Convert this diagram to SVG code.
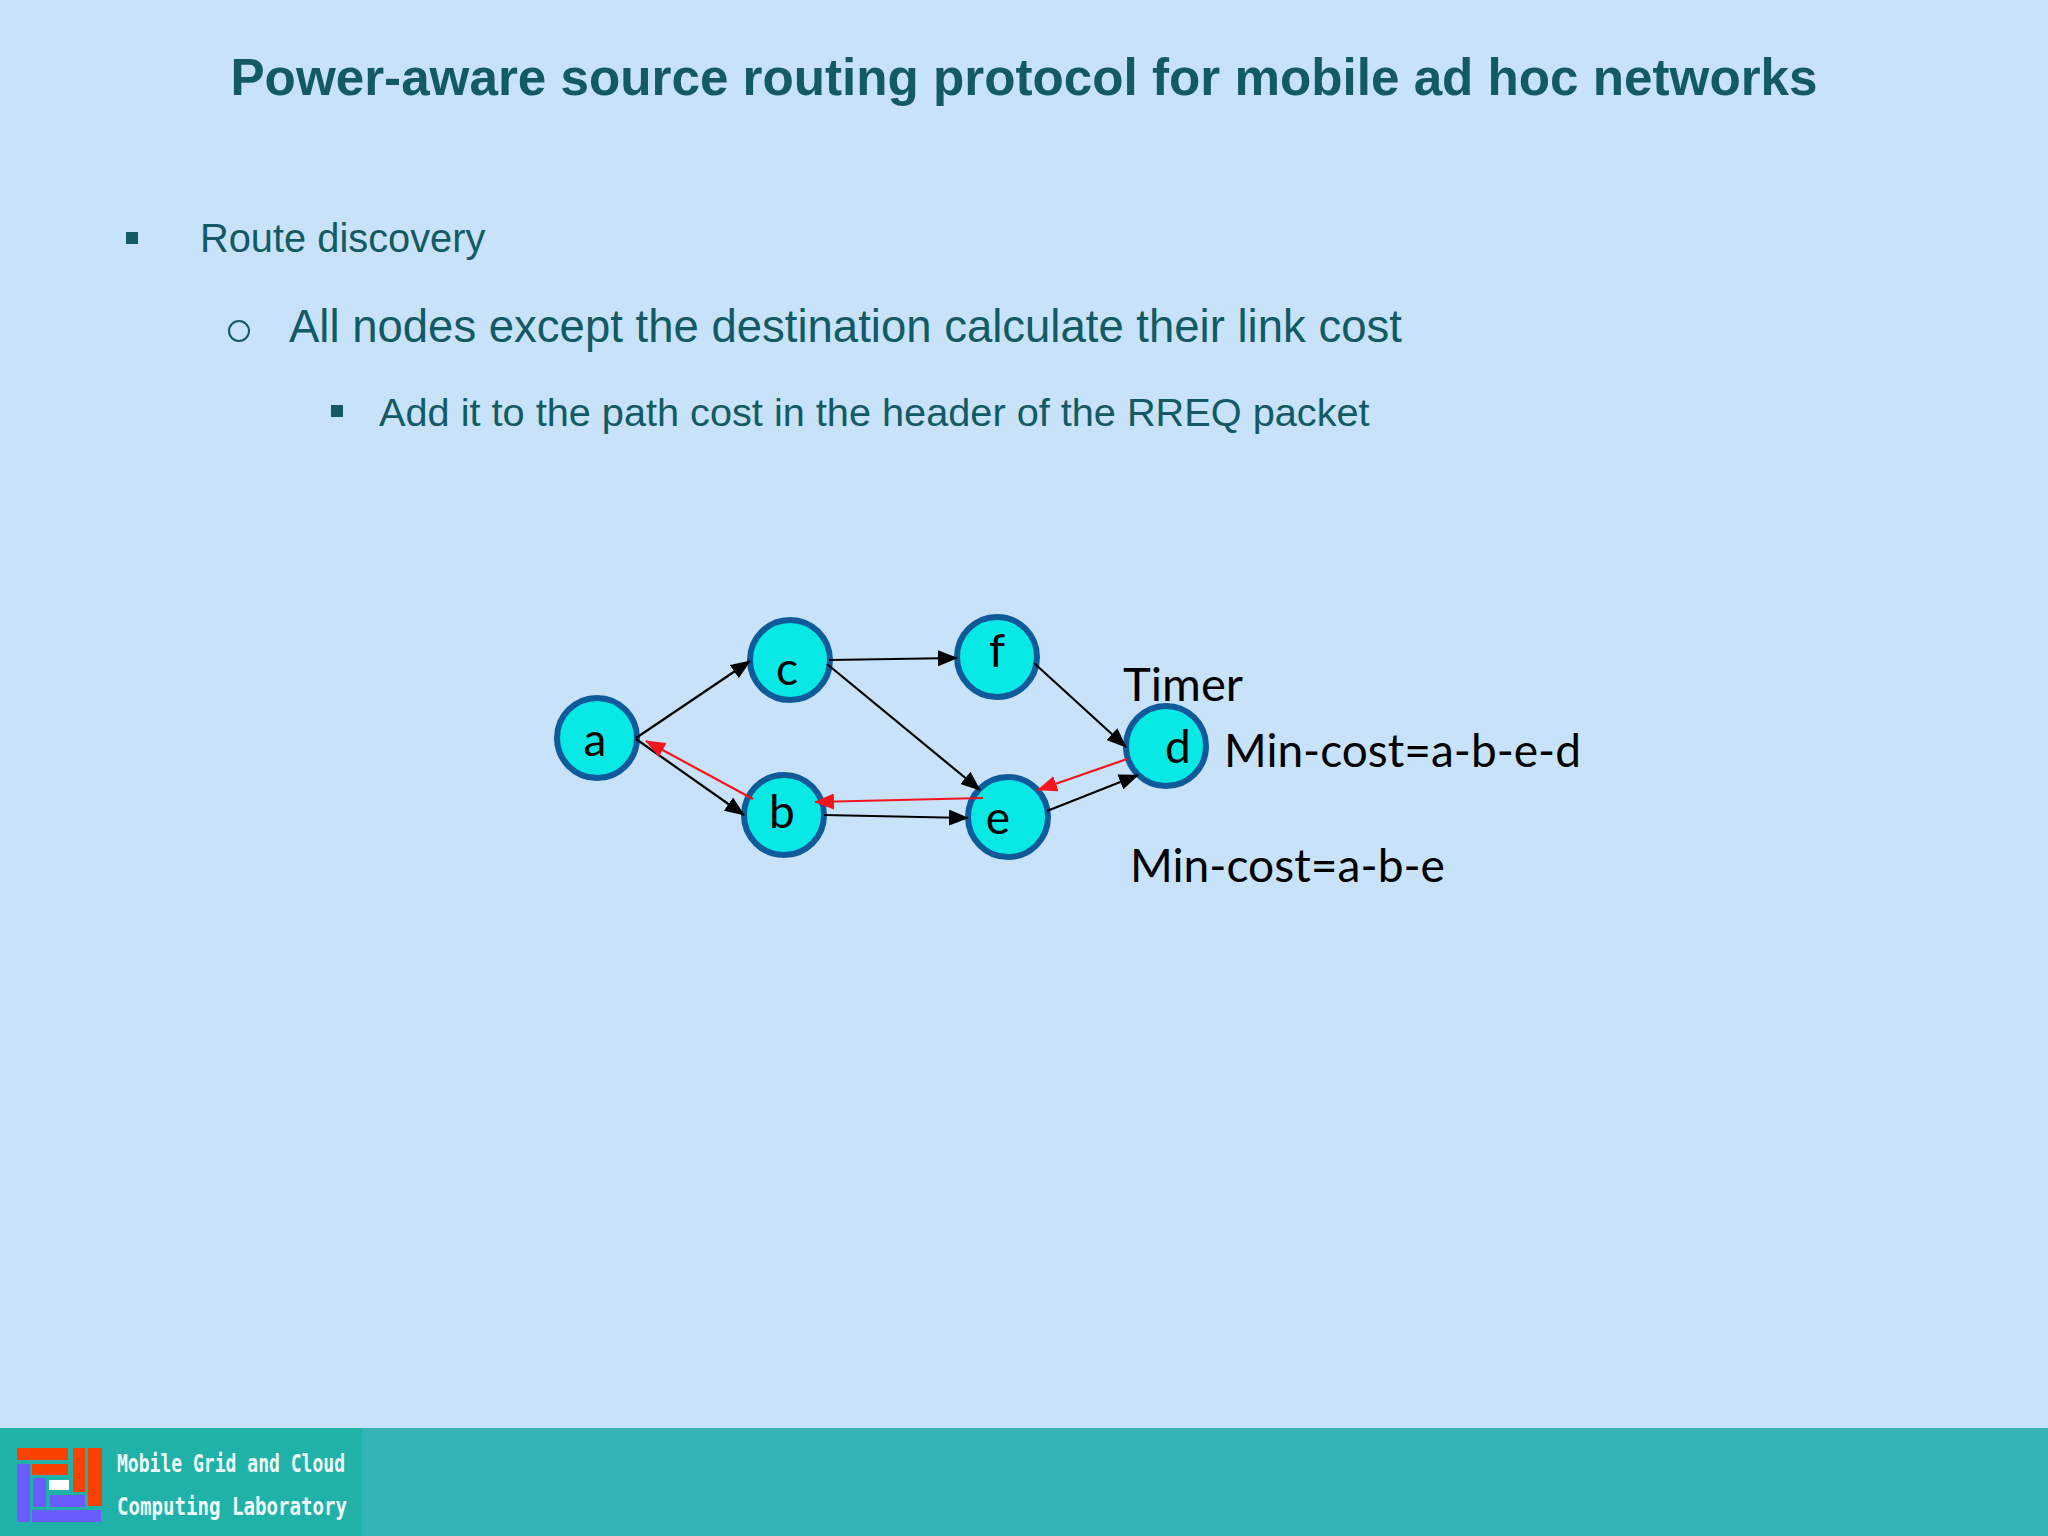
<svg xmlns="http://www.w3.org/2000/svg" width="2048" height="1536" viewBox="0 0 2048 1536">
<style>
.t{font-family:"Liberation Sans",Arial,sans-serif;fill:#125a64}
.n{fill:#08e8e4;stroke:#0f5a9a;stroke-width:6}
.l{font-family:"Lato","Open Sans",sans-serif;fill:#000;font-size:46px}
.nl{text-anchor:middle}
.k{stroke:#000;stroke-width:2.2;fill:none;marker-end:url(#ak)}
.r{stroke:#f5141e;stroke-width:2.2;fill:none;marker-end:url(#ar)}
.rd{fill:#fa4100}.pu{fill:#6a5cff}
.lg{font-family:"DejaVu Sans Mono",monospace;font-weight:bold;fill:#f2fbfb;font-size:24px}
</style>
<defs>
<marker id="ak" markerUnits="userSpaceOnUse" markerWidth="20" markerHeight="16" refX="19" refY="8" orient="auto"><path d="M0 0L20 8L0 16Z" fill="#000"/></marker>
<marker id="ar" markerUnits="userSpaceOnUse" markerWidth="20" markerHeight="16" refX="19" refY="8" orient="auto"><path d="M0 0L20 8L0 16Z" fill="#f5141e"/></marker>
</defs>
<rect width="2048" height="1536" fill="#c7e2f9"/>
<rect y="1428" width="2048" height="108" fill="#36b3b8"/>
<rect y="1428" width="362" height="108" fill="#20b2a8"/>
<g id="logo">
<rect class="rd" x="17" y="1448" width="51" height="12"/><rect class="rd" x="32" y="1464" width="36" height="11"/><rect class="rd" x="73" y="1448" width="12" height="44"/><rect class="rd" x="88" y="1448" width="14" height="58"/>
<rect class="pu" x="17" y="1464" width="13" height="58"/><rect class="pu" x="32" y="1510" width="69" height="12"/><rect class="pu" x="33" y="1478" width="13" height="29"/><rect class="pu" x="50" y="1495" width="35" height="12"/>
<rect x="49" y="1480" width="20" height="10" fill="#fff"/>
<text class="lg" x="117" y="1472" textLength="228" lengthAdjust="spacingAndGlyphs">Mobile Grid and Cloud</text>
<text class="lg" x="117" y="1515" textLength="230" lengthAdjust="spacingAndGlyphs">Computing Laboratory</text>
</g>
<text class="t" x="1024" y="95" font-size="51.2" font-weight="bold" text-anchor="middle">Power-aware source routing protocol for mobile ad hoc networks</text>
<rect x="126" y="232" width="12" height="12" fill="#125a64"/>
<text class="t" x="200" y="252" font-size="39.8">Route discovery</text>
<circle cx="239" cy="331" r="10" fill="none" stroke="#125a64" stroke-width="2"/>
<text class="t" x="289" y="342" font-size="45.5">All nodes except the destination calculate their link cost</text>
<rect x="331" y="405" width="12" height="12" fill="#125a64"/>
<text class="t" x="379" y="426" font-size="39.7">Add it to the path cost in the header of the RREQ packet</text>
<g id="node-a"><circle class="n" cx="597" cy="738" r="40"/><text class="l nl" x="595" y="756">a</text></g>
<g id="node-b"><circle class="n" cx="784" cy="815" r="40"/><text class="l nl" x="782" y="828">b</text></g>
<g id="node-c"><circle class="n" cx="790" cy="660" r="40"/><text class="l nl" x="787" y="685">c</text></g>
<g id="node-f"><circle class="n" cx="997" cy="657" r="40"/><text class="l nl" x="997" y="667">f</text></g>
<g id="node-e"><circle class="n" cx="1008" cy="817" r="40"/><text class="l nl" x="998" y="834">e</text></g>
<g id="node-d"><circle class="n" cx="1166" cy="746" r="40"/><text class="l nl" x="1178" y="763">d</text></g>
<g id="connectors">
<path class="k" d="M636 738L750 661"/>
<path class="k" d="M636 739L744 815"/>
<path class="k" d="M829 660L957 658"/>
<path class="k" d="M827 664L980 790"/>
<path class="k" d="M824 815L968 818"/>
<path class="k" d="M1034 663L1126 747"/>
<path class="k" d="M1047 811L1138 775"/>
<path class="r" d="M753 799L646 741"/>
<path class="r" d="M983 798L815 802"/>
<path class="r" d="M1127 759L1038 790"/>
</g>
<text class="l" x="1123" y="701" textLength="120" lengthAdjust="spacingAndGlyphs">Timer</text>
<text class="l" x="1224" y="767" textLength="357" lengthAdjust="spacingAndGlyphs">Min-cost=a-b-e-d</text>
<text class="l" x="1130" y="882" textLength="315" lengthAdjust="spacingAndGlyphs">Min-cost=a-b-e</text>
</svg>
